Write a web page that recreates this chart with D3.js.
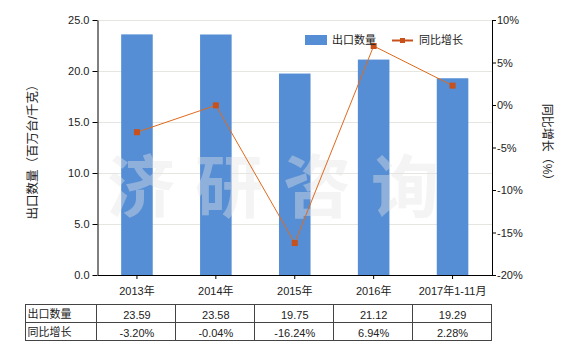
<!DOCTYPE html>
<html>
<head>
<meta charset="utf-8">
<script src="https://cdn.jsdelivr.net/npm/d3@7"></script>
<style>
  body { margin: 0; background: #fff; }
  text { font-family: "Liberation Sans", "Noto Sans CJK SC", sans-serif; font-size: 11px; fill: #222; }
</style>
</head>
<body>
<div id="chart"></div>
<script>
// data
const years = ["2013年", "2014年", "2015年", "2016年", "2017年1-11月"];
const exportQty = [23.59, 23.58, 19.75, 21.12, 19.29];
const growth = [-3.20, -0.04, -16.24, 6.94, 2.28];
const leftTicks = [0, 5, 10, 15, 20, 25];
const rightTicks = [-20, -15, -10, -5, 0, 5, 10];

const width = 580, height = 350;
const margin = { top: 20, left: 97.5, right: 88, bottom: 75 };

const svg = d3.select("#chart").append("svg")
    .attr("width", width).attr("height", height);

const xScale = d3.scaleBand()
    .domain(years)
    .range([margin.left, width - margin.right])
    .paddingInner(0.6).paddingOuter(0.3);

const yLeft = d3.scaleLinear().domain([0, 25]).range([height - margin.bottom, margin.top]);
const yRight = d3.scaleLinear().domain([-20, 10]).range([height - margin.bottom, margin.top]);

// gridlines
svg.append("g").selectAll("line").data(leftTicks.slice(1)).enter().append("line")
    .attr("x1", margin.left).attr("x2", width - margin.right)
    .attr("y1", d => Math.round(yLeft(d)) + 0.5).attr("y2", d => Math.round(yLeft(d)) + 0.5)
    .attr("stroke", "#e6e6e0");

// bars
svg.append("g").selectAll("rect").data(exportQty).enter().append("rect")
    .attr("x", (d, i) => xScale(years[i]))
    .attr("y", d => yLeft(d))
    .attr("width", xScale.bandwidth())
    .attr("height", d => yLeft(0) - yLeft(d))
    .attr("fill", "#558ed5");

// watermark
svg.append("text")
    .attr("x", 283).attr("y", 212)
    .attr("text-anchor", "middle")
    .style("font-family", "Noto Sans CJK SC")
    .style("font-weight", "bold")
    .style("font-size", "68px")
    .style("letter-spacing", "20px")
    .style("fill", "#e4e4e4")
    .style("opacity", 0.4)
    .text("济研咨询");

// line
const cx = (d, i) => xScale(years[i]) + xScale.bandwidth() / 2;
svg.append("path").datum(growth)
    .attr("fill", "none")
    .attr("stroke", "#e06a1c")
    .attr("stroke-width", 1)
    .attr("d", d3.line().x(cx).y(d => yRight(d)));

svg.append("g").selectAll("rect").data(growth).enter().append("rect")
    .attr("x", (d, i) => cx(d, i) - 3)
    .attr("y", d => yRight(d) - 3)
    .attr("width", 6).attr("height", 6)
    .attr("fill", "#c8501a");

// axes
svg.append("g")
    .attr("transform", `translate(0,${height - margin.bottom})`)
    .call(d3.axisBottom(xScale).tickSize(4).tickSizeOuter(0).tickPadding(8));

svg.append("g")
    .attr("transform", `translate(${margin.left},0)`)
    .call(d3.axisLeft(yLeft).tickValues(leftTicks).tickFormat(d3.format(".1f")).tickSize(5).tickSizeOuter(0).tickPadding(3));

svg.append("g")
    .attr("transform", `translate(${width - margin.right},0)`)
    .call(d3.axisRight(yRight).tickValues(rightTicks).tickFormat(d => d + "%").tickSize(4).tickSizeOuter(0).tickPadding(1));

svg.selectAll(".tick text").style("font-size", "11px").style("fill", "#222");
svg.selectAll(".domain, .tick line").attr("stroke", "#000");

// axis titles
svg.append("text")
    .attr("transform", "rotate(-90)")
    .attr("x", -149).attr("y", 37)
    .attr("text-anchor", "middle")
    .style("font-size", "12.5px")
    .text("出口数量（百万台/千克）");

svg.append("text")
    .attr("transform", "rotate(90)")
    .attr("x", 145).attr("y", -543)
    .attr("text-anchor", "middle")
    .style("font-size", "12px")
    .text("同比增长（%）");

// legend
svg.append("rect").attr("x", 305).attr("y", 35).attr("width", 22).attr("height", 10).attr("fill", "#558ed5");
svg.append("text").attr("x", 332).attr("y", 44).text("出口数量");
svg.append("line").attr("x1", 392).attr("x2", 413).attr("y1", 40.5).attr("y2", 40.5)
    .attr("stroke", "#c8501a").attr("stroke-width", 2);
svg.append("rect").attr("x", 400).attr("y", 38).attr("width", 5).attr("height", 5).attr("fill", "#c8501a");
svg.append("text").attr("x", 419).attr("y", 44).text("同比增长");

// data table, columns follow the x bands
const rows = [
    { name: "出口数量", vals: exportQty.map(d => d.toFixed(2)) },
    { name: "同比增长", vals: growth.map(d => d.toFixed(2) + "%") }
];
const tableTop = 304.5, rowH = 18, tableLeft = 25.5;
const bandEdges = years.map(y => xScale(y) + xScale.bandwidth() / 2 - xScale.step() / 2);
const edges = [tableLeft].concat(bandEdges.map(Math.round).map(v => v - 0.5), Math.round(bandEdges[4] + xScale.step()) - 0.5);

const table = svg.append("g");
table.append("rect")
    .attr("x", tableLeft).attr("y", tableTop)
    .attr("width", edges[edges.length - 1] - tableLeft).attr("height", rowH * 2)
    .attr("fill", "none").attr("stroke", "#444");
table.append("line").attr("x1", tableLeft).attr("x2", edges[edges.length - 1])
    .attr("y1", tableTop + rowH).attr("y2", tableTop + rowH).attr("stroke", "#444");
table.selectAll("line.col").data(edges.slice(1, -1)).enter().append("line")
    .attr("x1", d => d).attr("x2", d => d)
    .attr("y1", tableTop).attr("y2", tableTop + rowH * 2).attr("stroke", "#444");

rows.forEach((r, ri) => {
    table.append("text").attr("x", tableLeft + 2).attr("y", tableTop + rowH * ri + 13).text(r.name);
    r.vals.forEach((v, i) => {
        table.append("text")
            .attr("x", xScale(years[i]) + xScale.bandwidth() / 2)
            .attr("y", tableTop + rowH * ri + 14)
            .attr("text-anchor", "middle")
            .text(v);
    });
});
</script>
</body>
</html>
